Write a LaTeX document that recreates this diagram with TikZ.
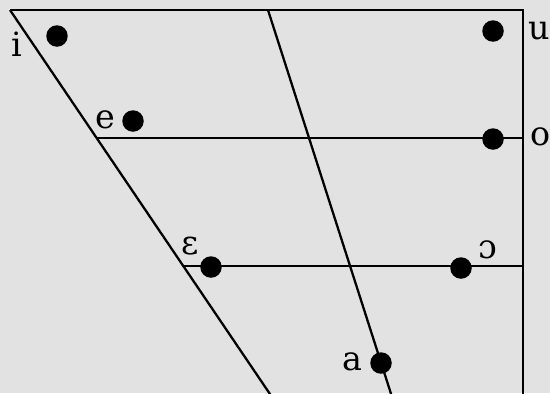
\documentclass[tikz,border=0pt]{standalone}
\usepackage{fontspec}
\setmainfont{DejaVu Serif}
\usepackage{tikz}
\usetikzlibrary{positioning}
\definecolor{paper}{RGB}{226,226,226}

\begin{document}
\begin{tikzpicture}[
  x=0.02cm, y=-0.02cm,
  edge/.style={line width=1.3pt},
  vowel/.style={circle, fill=black, inner sep=0pt, minimum size=0.43cm},
  lab/.style={font=\fontsize{19}{22}\selectfont, inner sep=0pt}
]
\fill[paper] (0,0) rectangle (550,393);
\useasboundingbox (0,0) rectangle (550,393);
\clip (0,0) rectangle (550,393);
% corners of the chart
\coordinate (tl) at (10,10);
\coordinate (tm) at (268,10);
\coordinate (tr) at (523,10);
\coordinate (bl) at (274,400);
\coordinate (bm) at (393,400);
\coordinate (br) at (523,400);
\coordinate (ml) at (97,138);
\coordinate (mr) at (523,138);
\coordinate (ll) at (183,266);
\coordinate (lr) at (523,266);
% frame
\draw[edge] (tl) -- (tr) -- (br);
\draw[edge] (tl) -- (bl);
\draw[edge] (tm) -- (bm);
\draw[edge] (ml) -- (mr);
\draw[edge] (ll) -- (lr);
% vowels
\node[vowel] (vi) at (57,36) {};
\node[vowel] (vu) at (493,31) {};
\node[vowel] (ve) at (133,121) {};
\node[vowel] (vo) at (493,139) {};
\node[vowel] (veps) at (211,267) {};
\node[vowel] (vopen) at (461,268) {};
\node[vowel] (va) at (381,363) {};
% labels
\node[lab] (li) at (17,44) {i};
\node[lab] (le) at (105,120) {e};
\node[lab] (lu) at (539,31) {u};
\node[lab] (lo) at (541,137) {o};
\node[lab] (leps) at (190,246) {ɛ};
\node[lab] (lopen) at (488,250) {ɔ};
\node[lab] (la) at (352,362) {a};
\end{tikzpicture}
\end{document}
